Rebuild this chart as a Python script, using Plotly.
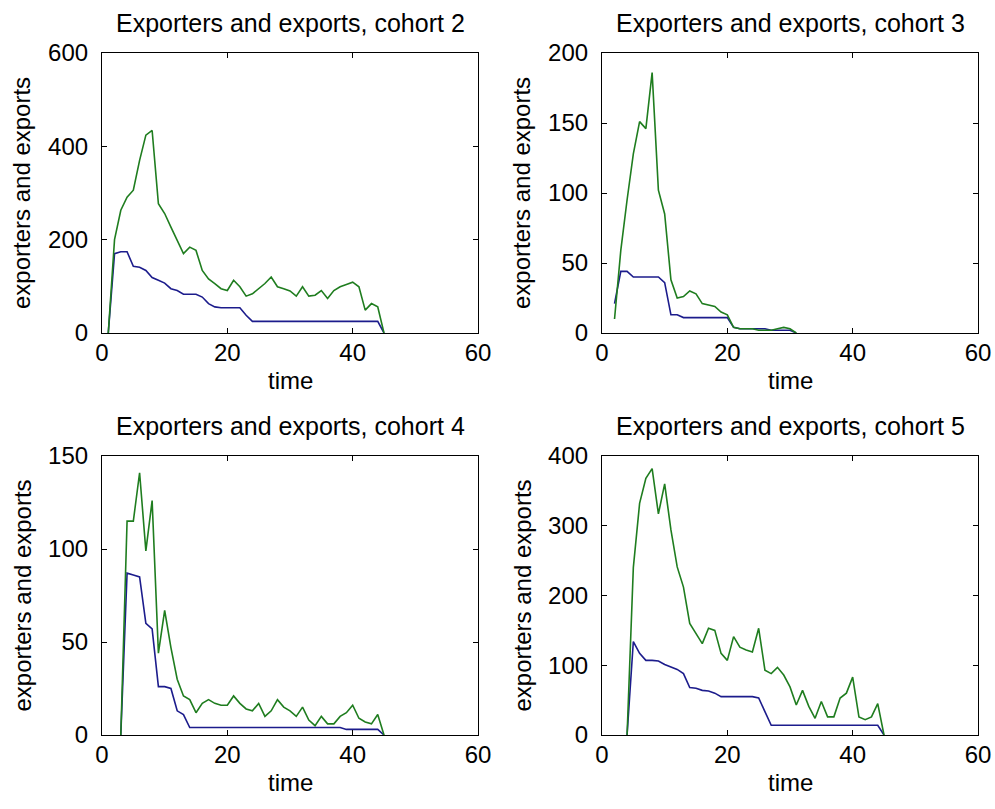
import plotly.graph_objects as go

# Time grids for each cohort
time_c2 = list(range(1, 46))
time_c3 = list(range(2, 32))
time_c4 = list(range(3, 46))
time_c5 = list(range(4, 46))

# Exports (green) and exporters (blue) per cohort
exports_c2 = [0, 200, 263, 291, 306, 370, 424, 434, 277, 256, 227, 199, 170, 184, 177,
              134, 116, 106, 95, 91, 113, 99, 79, 84, 95, 106, 120, 99, 95, 90,
              79, 99, 79, 81, 91, 74, 91, 99, 104, 109, 99, 49, 63, 56, 0]
exporters_c2 = [0, 170, 174, 174, 143, 141, 134, 119, 113, 107, 95, 91, 83, 83, 83,
                77, 63, 56, 54, 54, 54, 54, 38, 25, 25, 25, 25, 25, 25, 25,
                25, 25, 25, 25, 25, 25, 25, 25, 25, 25, 25, 25, 25, 25, 0]

exports_c3 = [10, 59, 95, 128, 151, 146, 186, 102, 85, 38, 25, 26, 30, 28, 21,
              20, 19, 15, 13, 4, 3, 3, 3, 2, 2, 2, 3, 4, 3, 0]
exporters_c3 = [21, 44, 44, 40, 40, 40, 40, 40, 36, 13, 13, 11, 11, 11, 11,
                11, 11, 11, 11, 4, 3, 3, 3, 3, 3, 2, 2, 2, 2, 0]

exports_c4 = [0, 115, 115, 141, 99, 126, 44, 67, 47, 30, 21, 19, 12, 17, 19,
              17, 16, 16, 21, 17, 14, 13, 17, 10, 13, 19, 15, 13, 10, 15,
              8, 5, 10, 6, 6, 10, 12, 16, 9, 7, 6, 11, 0]
exporters_c4 = [0, 87, 86, 85, 60, 57, 26, 26, 25, 13, 11, 4, 4, 4, 4,
                4, 4, 4, 4, 4, 4, 4, 4, 4, 4, 4, 4, 4, 4, 4,
                4, 4, 4, 4, 4, 4, 3, 3, 3, 3, 3, 3, 0]

exports_c5 = [0, 240, 332, 368, 382, 317, 360, 294, 241, 212, 160, 146, 131, 153, 150,
              117, 107, 141, 126, 122, 119, 153, 93, 88, 97, 86, 69, 43, 64, 41,
              24, 48, 26, 26, 53, 60, 83, 26, 22, 26, 45, 0]
exporters_c5 = [0, 134, 117, 107, 107, 106, 101, 98, 94, 88, 68, 67, 64, 63, 60,
                55, 55, 55, 55, 55, 55, 53, 33, 14, 14, 14, 14, 14, 14, 14,
                14, 14, 14, 14, 14, 14, 14, 14, 14, 14, 14, 0]

cohort_names = ["cohort 2", "cohort 3", "cohort 4", "cohort 5"]
x_ticks = [0, 20, 40, 60]
y_ticks = [[0, 200, 400, 600], [0, 50, 100, 150, 200],
           [0, 50, 100, 150], [0, 100, 200, 300, 400]]

panels = [
    (time_c2, exports_c2, exporters_c2),
    (time_c3, exports_c3, exporters_c3),
    (time_c4, exports_c4, exporters_c4),
    (time_c5, exports_c5, exporters_c5),
]

W, H = 995, 809
FONT = "Liberation Sans, Arial, sans-serif"
GREEN = "#1f7d1f"
BLUE = "#1c1c8c"

# panel boxes in pixels: (left, right, top, bottom)
boxes = [(102, 478, 53, 333), (602, 978, 53, 333),
         (102, 478, 456, 735), (602, 978, 456, 735)]

fig = go.Figure()
layout = dict(width=W, height=H, autosize=False,
              margin=dict(l=0, r=0, t=0, b=0, pad=0, autoexpand=False),
              paper_bgcolor="white", plot_bgcolor="white", showlegend=False,
              font=dict(family=FONT, color="black"))
annotations = []

for i, ((t, exp_vals, firm_vals), box) in enumerate(zip(panels, boxes)):
    n = i + 1
    xa = "x" if n == 1 else f"x{n}"
    ya = "y" if n == 1 else f"y{n}"
    fig.add_trace(go.Scatter(x=t, y=firm_vals, mode="lines", xaxis=xa, yaxis=ya,
                             line=dict(color=BLUE, width=1.6)))
    fig.add_trace(go.Scatter(x=t, y=exp_vals, mode="lines", xaxis=xa, yaxis=ya,
                             line=dict(color=GREEN, width=1.6)))
    l, r, top, bot = box
    xdom = [l / W, r / W]
    ydom = [1 - bot / H, 1 - top / H]
    yt = y_ticks[i]
    axis_common = dict(showline=True, linecolor="black", linewidth=1.2, mirror="ticks",
                       ticks="inside", ticklen=5, tickcolor="black", tickwidth=1.2,
                       showgrid=False, zeroline=False, automargin=False,
                       tickfont=dict(family=FONT, size=24, color="black"))
    layout["xaxis" if n == 1 else f"xaxis{n}"] = dict(
        domain=xdom, range=[0, 60], tickvals=x_ticks, anchor=ya,
        ticklabelstandoff=-2, **axis_common)
    layout["yaxis" if n == 1 else f"yaxis{n}"] = dict(
        domain=ydom, range=[yt[0], yt[-1]], tickvals=yt, anchor=xa,
        ticklabelstandoff=8, **axis_common)
    cx = (l + r) / 2 / W
    annotations.append(dict(text=f"Exporters and exports, {cohort_names[i]}",
                            x=cx, y=1 - (top - 30) / H, xref="paper", yref="paper",
                            xanchor="center", yanchor="middle", showarrow=False,
                            font=dict(family=FONT, size=25, color="black")))
    annotations.append(dict(text="time", x=cx, y=1 - (bot + 47) / H,
                            xref="paper", yref="paper", xanchor="center",
                            yanchor="middle", showarrow=False,
                            font=dict(family=FONT, size=24, color="black")))
    annotations.append(dict(text="exporters and exports", x=(l - 80) / W,
                            y=1 - (top + bot) / 2 / H, xref="paper", yref="paper",
                            xanchor="center", yanchor="middle", textangle=-90,
                            showarrow=False,
                            font=dict(family=FONT, size=24, color="black")))

layout["annotations"] = annotations
fig.update_layout(**layout)
fig.write_html("out.html")
